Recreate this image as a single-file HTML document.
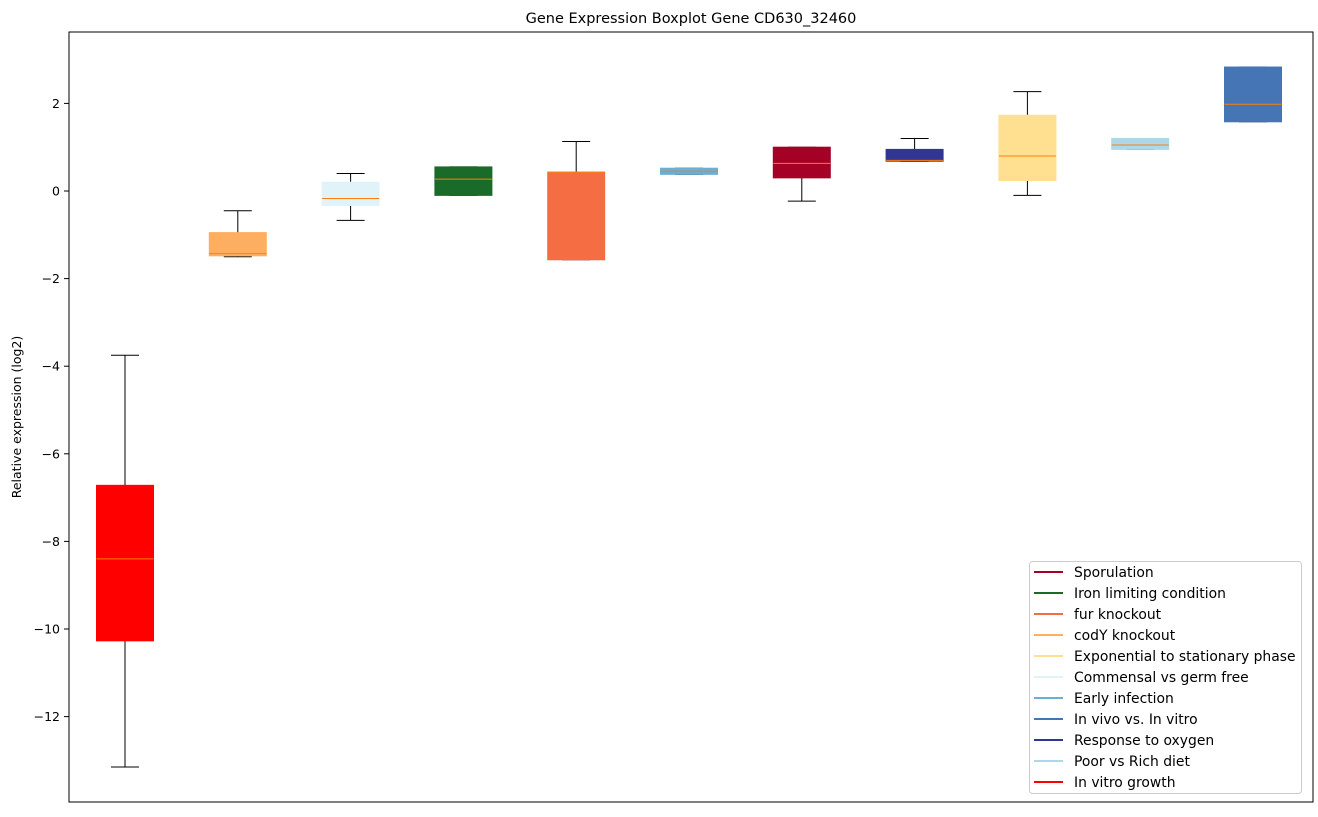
<!DOCTYPE html>
<html><head><meta charset="utf-8"><style>
body{margin:0;background:#fff;}
svg{font-family:"DejaVu Sans","Liberation Sans",sans-serif;}
</style></head><body>
<svg id="chart" width="1318" height="812">
<rect x="0" y="0" width="1318" height="812" fill="#fff"/>
<text x="691" y="23" text-anchor="middle" font-size="14.5">Gene Expression Boxplot Gene CD630_32460</text>
<text transform="translate(21,417) rotate(-90)" text-anchor="middle" font-size="12.5">Relative expression (log2)</text>
<g id="ticks"></g>
<g id="boxes"></g>
<rect x="69" y="32" width="1244" height="770" fill="none" stroke="#000" stroke-width="1"/>
<g id="legend"></g>
</svg>
<script>
const categories=["In vitro growth","codY knockout","Commensal vs germ free","Iron limiting condition","fur knockout","Early infection","Sporulation","Response to oxygen","Exponential to stationary phase","Poor vs Rich diet","In vivo vs. In vitro"];
const colors=["#ff0000","#fdae61","#e0f3f8","#1a6b2a","#f46d43","#6baed6","#a50026","#313695","#fee090","#abd9e9","#4575b4"];
const whiskLow=[-13.15,-1.5,-0.67,-0.1,-1.57,0.38,-0.23,0.68,-0.1,0.95,1.58];
const q1=[-10.27,-1.48,-0.33,-0.1,-1.57,0.38,0.3,0.68,0.24,0.95,1.58];
const medians=[-8.4,-1.43,-0.17,0.27,0.43,0.45,0.63,0.7,0.8,1.05,1.98];
const q3=[-6.72,-0.95,0.2,0.55,0.43,0.52,1.0,0.95,1.73,1.2,2.83];
const whiskHigh=[-3.75,-0.45,0.4,0.55,1.13,0.52,1.0,1.2,2.27,1.2,2.83];
const yTicks=[2,0,-2,-4,-6,-8,-10,-12];
const legendLabels=["Sporulation","Iron limiting condition","fur knockout","codY knockout","Exponential to stationary phase","Commensal vs germ free","Early infection","In vivo vs. In vitro","Response to oxygen","Poor vs Rich diet","In vitro growth"];
const legendColors=["#a50026","#1a6b2a","#f46d43","#fdae61","#fee090","#e0f3f8","#6baed6","#4575b4","#313695","#abd9e9","#ff0000"];
const NS="http://www.w3.org/2000/svg";
function y(v){return 191-v*43.8;}
function x(i){return 125+i*112.8;}
function mk(tag,attrs,parent){const e=document.createElementNS(NS,tag);for(const k in attrs)e.setAttribute(k,attrs[k]);parent.appendChild(e);return e;}
const tg=document.getElementById('ticks');
yTicks.forEach(t=>{
  const l=mk('line',{x1:64,x2:69,y1:y(t),y2:y(t),stroke:'#000'},tg);
  
  
  const tx=mk('text',{x:60,y:y(t)+4.5,'text-anchor':'end','font-size':12.5},tg);
  tx.textContent=(t<0?'\u2212'+(-t):String(t));
  
  
});
const bg=document.getElementById('boxes');
categories.forEach((c,i)=>{
  const cx=x(i),w=28.5;
  const g=mk('g',{},bg);
  
  
  mk('line',{x1:cx,x2:cx,y1:y(whiskLow[i]),y2:y(q1[i]),stroke:'#000'},g);
  mk('line',{x1:cx,x2:cx,y1:y(q3[i]),y2:y(whiskHigh[i]),stroke:'#000'},g);
  mk('line',{x1:cx-14,x2:cx+14,y1:y(whiskLow[i]),y2:y(whiskLow[i]),stroke:'#000'},g);
  mk('line',{x1:cx-14,x2:cx+14,y1:y(whiskHigh[i]),y2:y(whiskHigh[i]),stroke:'#000'},g);
  mk('rect',{x:cx-w,y:y(q3[i]),width:2*w,height:Math.max(1,y(q1[i])-y(q3[i])),fill:colors[i],stroke:colors[i]},g);
  mk('line',{x1:cx-w,x2:cx+w,y1:y(medians[i]),y2:y(medians[i]),stroke:'#ff7f0e','stroke-width':1},g);
});
const lg=document.getElementById('legend');
const fr=mk('rect',{x:1029.5,y:561.5,width:272,height:232,rx:3,fill:'#fff',stroke:'#ccc'},lg);


legendLabels.forEach((lab,i)=>{
  const yy=572+i*21;
  const g=mk('g',{},lg);
  
  
  mk('line',{x1:1034,x2:1063,y1:yy,y2:yy,stroke:legendColors[i],'stroke-width':2},g);
  const t=mk('text',{x:1074,y:yy+5,'font-size':13.9},g);
  t.textContent=lab;
});
</script>
</body></html>
